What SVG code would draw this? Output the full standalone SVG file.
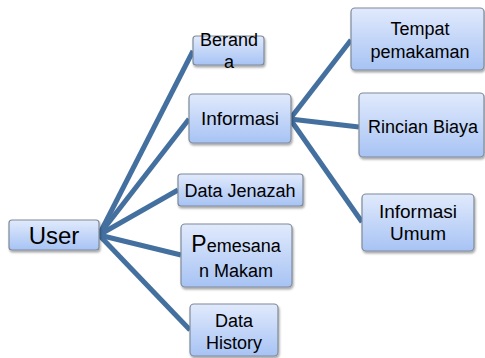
<svg xmlns="http://www.w3.org/2000/svg" width="485" height="358" viewBox="0 0 485 358">
<defs>
<linearGradient id="g" x1="0" y1="0" x2="0" y2="1">
<stop offset="0" stop-color="#e1eafc"/>
<stop offset="1" stop-color="#a7c3f4"/>
</linearGradient>
<filter id="sh" x="-10%" y="-10%" width="130%" height="140%">
<feDropShadow dx="1" dy="2" stdDeviation="1.2" flood-color="#000" flood-opacity="0.35"/>
</filter>
</defs>
<style>
.box{fill:url(#g);stroke:#7f8a99;stroke-width:1.2;filter:url(#sh)}
.t{font-family:"Liberation Sans",Arial,sans-serif;font-size:18px;fill:#000;text-anchor:middle}
.c{stroke:#44709f;stroke-width:5;fill:none;stroke-linecap:butt}
</style>
<rect width="485" height="358" fill="#fff"/>
<g id="connectors">
<line class="c" x1="99" y1="235" x2="193" y2="51"/>
<line class="c" x1="99" y1="235" x2="189" y2="119"/>
<line class="c" x1="99" y1="235" x2="178" y2="190"/>
<line class="c" x1="99" y1="235" x2="181" y2="255"/>
<line class="c" x1="99" y1="235" x2="190" y2="330"/>
<line class="c" x1="290" y1="119" x2="351" y2="40"/>
<line class="c" x1="290" y1="119" x2="359" y2="127"/>
<line class="c" x1="290" y1="119" x2="362" y2="222"/>
</g>
<g id="user">
<rect class="box" x="9" y="220" width="90" height="30" rx="3"/>
<text class="t" x="54" y="244" style="font-size:24px">User</text>
</g>
<g id="beranda">
<rect class="box" x="193" y="36" width="71" height="29" rx="3"/>
<text class="t" x="229" y="46">Berand</text>
<text class="t" x="229" y="68">a</text>
</g>
<g id="informasi">
<rect class="box" x="189" y="94" width="102" height="49" rx="4"/>
<text class="t" x="240" y="125" style="font-size:19px">Informasi</text>
</g>
<g id="data-jenazah">
<rect class="box" x="178" y="174" width="125" height="32" rx="3"/>
<text class="t" x="240" y="197">Data Jenazah</text>
</g>
<g id="pemesanan-makam">
<rect class="box" x="181" y="224" width="111" height="63" rx="4"/>
<text class="t" x="236" y="252"><tspan style="font-size:23px">P</tspan>emesana</text>
<text class="t" x="236" y="277">n Makam</text>
</g>
<g id="data-history">
<rect class="box" x="190" y="304" width="88" height="52" rx="4"/>
<text class="t" x="234" y="327">Data</text>
<text class="t" x="234" y="349">History</text>
</g>
<g id="tempat-pemakaman">
<rect class="box" x="351" y="8" width="133" height="62" rx="4"/>
<text class="t" x="420" y="35">Tempat</text>
<text class="t" x="420" y="58">pemakaman</text>
</g>
<g id="rincian-biaya">
<rect class="box" x="359" y="93" width="125" height="64" rx="4"/>
<text class="t" x="423" y="133">Rincian Biaya</text>
</g>
<g id="informasi-umum">
<rect class="box" x="362" y="194" width="112" height="57" rx="4"/>
<text class="t" x="418" y="218" style="font-size:19px">Informasi</text>
<text class="t" x="418" y="240" style="font-size:19px">Umum</text>
</g>
</svg>
